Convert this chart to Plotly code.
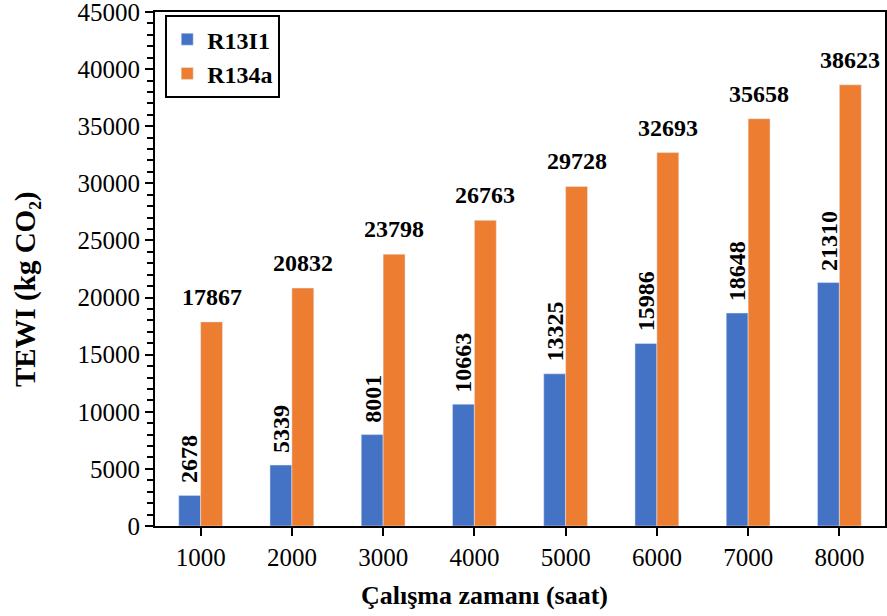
import plotly.graph_objects as go

categories = ["1000", "2000", "3000", "4000", "5000", "6000", "7000", "8000"]
r13i1 = [2678, 5339, 8001, 10663, 13325, 15986, 18648, 21310]
r134a = [17867, 20832, 23798, 26763, 29728, 32693, 35658, 38623]
y_ticks = [0, 5000, 10000, 15000, 20000, 25000, 30000, 35000, 40000, 45000]

FONT = "Liberation Serif"
BARGAP = 0.52
OFF = (1 - BARGAP) / 4  # half bar width offset in category units

fig = go.Figure()
fig.add_trace(go.Bar(x=categories, y=r13i1, name="<b>R13I1</b>", marker=dict(color="#4472C4")))
fig.add_trace(go.Bar(x=categories, y=r134a, name="<b>R134a</b>", marker=dict(color="#ED7D31")))

annotations = []
for i, v in enumerate(r13i1):
    annotations.append(dict(
        x=i - OFF, y=v, xref="x", yref="y", text=f"<b>{v}</b>", showarrow=False,
        textangle=-90, xanchor="center", yanchor="bottom", yshift=10,
        font=dict(family=FONT, size=24, color="black"),
    ))
for i, v in enumerate(r134a):
    annotations.append(dict(
        x=i + OFF, y=v, xref="x", yref="y", text=f"<b>{v}</b>", showarrow=False,
        xanchor="center", yanchor="bottom", yshift=10,
        font=dict(family=FONT, size=24, color="black"),
    ))
# axis titles
annotations.append(dict(
    x=-0.178, y=0.461, xref="paper", yref="paper", text="<b>TEWI (kg CO₂)</b>",
    showarrow=False, textangle=-90, xanchor="center", yanchor="middle",
    font=dict(family=FONT, size=29, color="black"),
))
annotations.append(dict(
    x=0.452, y=-0.136, xref="paper", yref="paper", text="<b>Çalışma zamanı (saat)</b>",
    showarrow=False, xanchor="center", yanchor="middle",
    font=dict(family=FONT, size=26, color="black"),
))

fig.update_layout(
    width=887, height=616,
    margin=dict(l=155, r=2, t=12, b=90, autoexpand=False),
    paper_bgcolor="white", plot_bgcolor="white",
    barmode="group", bargap=BARGAP, bargroupgap=0,
    font=dict(family=FONT, color="black"),
    showlegend=True,
    annotations=annotations,
    legend=dict(
        x=0.014, y=0.994, xanchor="left", yanchor="top",
        bordercolor="black", borderwidth=2, bgcolor="white",
        font=dict(family=FONT, size=24, color="black"),
        itemwidth=30, tracegroupgap=18,
    ),
    xaxis=dict(
        automargin=False,
        showline=True, linecolor="black", linewidth=2, mirror=True,
        ticks="outside", ticklen=8, tickwidth=2, tickcolor="black",
        tickfont=dict(family=FONT, size=25, color="black"),
    ),
    yaxis=dict(
        automargin=False,
        range=[0, 45000], tickmode="array", tickvals=y_ticks,
        ticktext=[str(t) for t in y_ticks], ticklabeloverflow="allow",
        showline=True, linecolor="black", linewidth=2, mirror=True,
        showgrid=False, zeroline=False,
        ticks="outside", ticklen=8, tickwidth=2, tickcolor="black",
        minor=dict(tickmode="linear", tick0=0, dtick=1000, ticks="outside", ticklen=6,
                   tickwidth=2, tickcolor="black", showgrid=False),
        tickfont=dict(family=FONT, size=25, color="black"),
    ),
)

fig.write_html("out.html", config={"displayModeBar": False},
               post_script="document.body.style.margin='0';")
